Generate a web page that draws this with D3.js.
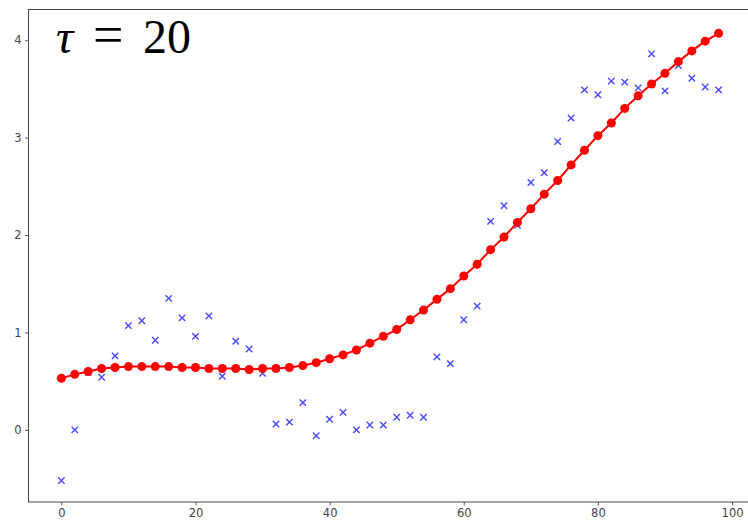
<!DOCTYPE html>
<html>
<head>
<meta charset="utf-8">
<script src="https://cdn.jsdelivr.net/npm/d3@7"></script>
<style>
  body { margin: 0; background: #fff; }
  svg { display: block; }
</style>
</head>
<body>
<script>
// x positions shared by both series
const xs = d3.range(0, 100, 2);

// noisy observations (blue crosses)
const observed = [-0.52, 0.00, 0.59, 0.54, 0.76, 1.07, 1.12, 0.92, 1.35, 1.15,
                  0.96, 1.17, 0.55, 0.91, 0.83, 0.58, 0.06, 0.08, 0.28, -0.06,
                  0.11, 0.18, 0.00, 0.05, 0.05, 0.13, 0.15, 0.13, 0.75, 0.68,
                  1.13, 1.27, 2.14, 2.30, 2.10, 2.54, 2.64, 2.96, 3.20, 3.49,
                  3.44, 3.58, 3.57, 3.51, 3.86, 3.48, 3.74, 3.61, 3.52, 3.49];

// smoothed fit (red line + dots)
const smoothed = [0.53, 0.57, 0.60, 0.63, 0.64, 0.65, 0.65, 0.65, 0.65, 0.64,
                  0.64, 0.63, 0.63, 0.63, 0.62, 0.63, 0.63, 0.64, 0.66, 0.69,
                  0.73, 0.77, 0.82, 0.89, 0.96, 1.03, 1.13, 1.23, 1.34, 1.45,
                  1.58, 1.70, 1.85, 1.98, 2.13, 2.27, 2.42, 2.56, 2.72, 2.87,
                  3.02, 3.15, 3.30, 3.43, 3.55, 3.66, 3.78, 3.89, 3.99, 4.07];

const xTicks = [0, 20, 40, 60, 80, 100];
const yTicks = [0, 1, 2, 3, 4];

const W = 748, H = 526;
const plot = {left: 28.5, right: 751.5, top: 9.5, bottom: 502};

const svg = d3.select("body").append("svg")
    .attr("width", W)
    .attr("height", H);

const x = d3.scaleLinear().domain([-4.9, 102.9]).range([plot.left, plot.right]);
const y = d3.scaleLinear().domain([-0.74, 4.315]).range([plot.bottom, plot.top]);

// axes
const xAxis = d3.axisBottom(x).tickValues(xTicks).tickFormat(d3.format("d")).tickSize(3.5).tickPadding(3.5);
const yAxis = d3.axisLeft(y).tickValues(yTicks).tickFormat(d3.format("d")).tickSize(3.5).tickPadding(3.5);

svg.append("g")
    .attr("transform", "translate(0," + plot.bottom + ")")
    .call(xAxis)
    .call(g => g.select(".domain").remove());

svg.append("g")
    .attr("transform", "translate(" + plot.left + ",0)")
    .call(yAxis)
    .call(g => g.select(".domain").remove());

svg.selectAll(".tick line").attr("stroke", "#333").attr("stroke-width", 0.8);
svg.selectAll(".tick text")
    .attr("fill", "#444")
    .style("font-family", "DejaVu Sans")
    .style("font-size", "11.5px");

// frame
svg.append("rect")
    .attr("x", plot.left)
    .attr("y", plot.top)
    .attr("width", plot.right - plot.left)
    .attr("height", plot.bottom - plot.top)
    .attr("fill", "none")
    .attr("stroke", "#333")
    .attr("stroke-width", 0.9);

const pts = xs.map((d, i) => ({x: d, obs: observed[i], fit: smoothed[i]}));

// blue crosses
const s = 3.2;
const cross = svg.append("g")
    .attr("stroke", "#0000ff")
    .attr("stroke-opacity", 0.72)
    .attr("stroke-width", 1.4);
cross.selectAll("path")
    .data(pts)
    .join("path")
    .attr("d", d => {
      const cx = x(d.x), cy = y(d.obs);
      return `M${cx - s},${cy - s}L${cx + s},${cy + s}M${cx - s},${cy + s}L${cx + s},${cy - s}`;
    });

// red line with dots
const line = d3.line().x(d => x(d.x)).y(d => y(d.fit));
svg.append("path")
    .datum(pts)
    .attr("d", line)
    .attr("fill", "none")
    .attr("stroke", "#ff0000")
    .attr("stroke-width", 2);

svg.append("g")
    .selectAll("circle")
    .data(pts)
    .join("circle")
    .attr("cx", d => x(d.x))
    .attr("cy", d => y(d.fit))
    .attr("r", 4.5)
    .attr("fill", "#ff0000");

// title label, spaced like mathtext
const label = svg.append("text")
    .attr("y", 53)
    .style("font-family", "Liberation Serif")
    .style("font-size", "48px")
    .attr("fill", "#000");
label.append("tspan").attr("x", 56).style("font-style", "italic").text("τ");
label.append("tspan").attr("x", 93).style("font-size", "54px").text("=");
label.append("tspan").attr("x", 143).text("20");
</script>
</body>
</html>
